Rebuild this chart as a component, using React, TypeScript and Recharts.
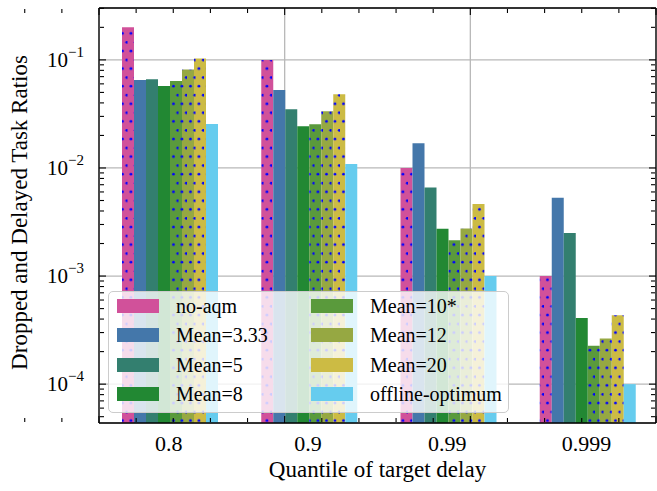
import React from 'react';
import { BarChart, Bar, XAxis, YAxis, CartesianGrid } from 'recharts';

const QUANTILES = ['0.8', '0.9', '0.99', '0.999'];

const SERIES = ['no-aqm', 'Mean=3.33', 'Mean=5', 'Mean=8', 'Mean=10*', 'Mean=12', 'Mean=20', 'offline-optimum'];
const COLORS = ['#d1519a', '#4477aa', '#337f6f', '#228833', '#5a9a3c', '#96a842', '#ccbb44', '#66ccee'];
const HATCHED = [true, false, false, false, true, true, true, false];

// values per quantile
const NO_AQM = [0.2, 0.1, 0.01, 0.001];
const MEAN_3_33 = [0.065, 0.0527, 0.0169, 0.0053];
const MEAN_5 = [0.0662, 0.0349, 0.0066, 0.0025];
const MEAN_8 = [0.0574, 0.0243, 0.00274, 0.00041];
const MEAN_10 = [0.0639, 0.0254, 0.00214, 0.000226];
const MEAN_12 = [0.0813, 0.0335, 0.00276, 0.000265];
const MEAN_20 = [0.1028, 0.0481, 0.00464, 0.000433];
const OFFLINE = [0.0255, 0.0109, 0.001, 0.0001];

const VALUES = [NO_AQM, MEAN_3_33, MEAN_5, MEAN_8, MEAN_10, MEAN_12, MEAN_20, OFFLINE];

const DECADES = [1e-4, 1e-3, 1e-2, 1e-1];
const Y_DOMAIN = [4.37e-5, 0.302];
const MINOR_Y = [1e-5, 1e-4, 1e-3, 1e-2, 1e-1]
  .flatMap((d) => [2, 3, 4, 5, 6, 7, 8, 9].map((m) => m * d))
  .filter((v) => v > Y_DOMAIN[0] && v < Y_DOMAIN[1]);

const X_DOMAIN = [-0.5, 3.5];
const MAJOR_X = [0, 1, 2, 3];
const MINOR_X = [-0.4, -0.2, 0.2, 0.4, 0.6, 0.8, 1.2, 1.4, 1.6, 1.8, 2.2, 2.4, 2.6, 2.8, 3.2, 3.4];

const data = QUANTILES.map((q, i) => {
  const row: Record<string, any> = { q };
  VALUES.forEach((arr, k) => {
    row[`s${k}`] = arr[i];
  });
  return row;
});

const FONT = '"Liberation Serif", "DejaVu Serif", serif';
const GRID = '#b8b8b8';

const NoTick = () => <g />;

const YTick = (props: any) => {
  const { x, y, payload } = props;
  const exp = Math.round(Math.log10(payload.value));
  return (
    <text x={x} y={y + 7} textAnchor="end" fontFamily={FONT} fontSize={21} fill="#000">
      10
      <tspan dy={-10} fontSize={15}>{`\u2212${Math.abs(exp)}`}</tspan>
    </text>
  );
};

const XTick = (props: any) => {
  const { x, y, payload } = props;
  return (
    <text x={x} y={y + 15} textAnchor="middle" fontFamily={FONT} fontSize={22} fill="#000">
      {payload.value}
    </text>
  );
};

const YLabel = (props: any) => {
  const vb = props.viewBox || {};
  const cy = (vb.y ?? 8) + (vb.height ?? 415) / 2 - 3;
  return (
    <text x={27} y={cy} transform={`rotate(-90 27 ${cy})`} textAnchor="middle" fontFamily={FONT} fontSize={23} fill="#000">
      Dropped and Delayed Task Ratios
    </text>
  );
};

const XLabel = (props: any) => {
  const vb = props.viewBox || {};
  const cx = (vb.x ?? 99) + (vb.width ?? 557) / 2;
  return (
    <text x={cx} y={477} textAnchor="middle" fontFamily={FONT} fontSize={23} fill="#000">
      Quantile of target delay
    </text>
  );
};

const axisLine = { stroke: '#000', strokeWidth: 1.3 };
const tickLine = { stroke: '#000', strokeWidth: 1.1 };

const LegendBox = () => (
  <div
    style={{
      position: 'absolute',
      left: 108,
      top: 291,
      width: 401,
      height: 122,
      boxSizing: 'border-box',
      background: 'rgba(255,255,255,0.8)',
      border: '1.5px solid #cccccc',
      borderRadius: 5,
      fontFamily: FONT,
      fontSize: 20,
      color: '#000',
    }}
  >
    {SERIES.map((name, i) => {
      const col = Math.floor(i / 4);
      const row = i % 4;
      const top = 7 + row * 29.3;
      const left = col === 0 ? 8 : 202;
      return (
        <div key={name} style={{ position: 'absolute', left, top, height: 14, width: 200 }}>
          <div style={{ position: 'absolute', left: 0, top: 0, width: 42, height: 14, background: COLORS[i] }} />
          <div style={{ position: 'absolute', left: 59, top: -5, lineHeight: '24px', whiteSpace: 'nowrap' }}>{name}</div>
        </div>
      );
    })}
  </div>
);

const mirrorX = { type: 'number' as const, domain: X_DOMAIN, allowDataOverflow: true, mirror: true, tick: <NoTick />, interval: 0 as const, tickLine, height: 1 };
const mirrorY = { type: 'number' as const, scale: 'log' as const, domain: Y_DOMAIN, allowDataOverflow: true, mirror: true, tick: <NoTick />, interval: 0 as const, tickLine, width: 1 };

export default function App() {
  return (
    <div style={{ position: 'absolute', left: 0, top: 0, width: 657, height: 491, background: '#fff' }}>
      <svg width={0} height={0} style={{ position: 'absolute' }}>
        <defs>
          {COLORS.map((c, i) => (
            <pattern key={i} id={`dots${i}`} patternUnits="userSpaceOnUse" width={8.5} height={17.6}>
              <rect x={0} y={0} width={8.5} height={17.6} fill={c} />
              <circle cx={7.7} cy={7.1} r={1.35} fill="#0000ff" />
              <circle cx={3.45} cy={15.8} r={1.35} fill="#0000ff" />
            </pattern>
          ))}
        </defs>
      </svg>
      <BarChart
        width={657}
        height={491}
        data={data}
        margin={{ top: 8, right: 1, bottom: 67, left: 98 }}
        barGap={0}
        barCategoryGap={23}
      >
        <CartesianGrid xAxisId="xg" yAxisId="y" stroke={GRID} strokeWidth={1.3} />
        <XAxis
          xAxisId="x"
          dataKey="q"
          height={1}
          interval={0}
          tickLine={false}
          tickSize={0}
          tickMargin={13}
          axisLine={axisLine}
          tick={<XTick />}
          label={<XLabel />}
        />
        <XAxis xAxisId="xg" orientation="top" {...mirrorX} ticks={MAJOR_X} tickSize={7} axisLine={axisLine} />
        <XAxis xAxisId="xt2" orientation="top" {...mirrorX} ticks={MINOR_X} tickSize={4} axisLine={false} />
        <XAxis xAxisId="xb1" orientation="bottom" {...mirrorX} ticks={MAJOR_X} tickSize={7} axisLine={false} />
        <XAxis xAxisId="xb2" orientation="bottom" {...mirrorX} ticks={MINOR_X} tickSize={4} axisLine={false} />
        <YAxis
          yAxisId="y"
          type="number"
          scale="log"
          domain={Y_DOMAIN}
          allowDataOverflow
          ticks={DECADES}
          interval={0}
          width={1}
          tickLine={false}
          tickSize={0}
          tickMargin={15}
          axisLine={axisLine}
          tick={<YTick />}
          label={<YLabel />}
        />
        <YAxis yAxisId="yl1" orientation="left" {...mirrorY} ticks={DECADES} tickSize={7} axisLine={false} />
        <YAxis yAxisId="yl2" orientation="left" {...mirrorY} ticks={MINOR_Y} tickSize={4} axisLine={false} />
        <YAxis yAxisId="yr1" orientation="right" {...mirrorY} ticks={DECADES} tickSize={7} axisLine={axisLine} />
        <YAxis yAxisId="yr2" orientation="right" {...mirrorY} ticks={MINOR_Y} tickSize={4} axisLine={false} />
        {SERIES.map((name, k) => (
          <Bar
            key={name}
            xAxisId="x"
            yAxisId="y"
            dataKey={`s${k}`}
            name={name}
            fill={HATCHED[k] ? `url(#dots${k})` : COLORS[k]}
            isAnimationActive={false}
          />
        ))}
      </BarChart>
      <LegendBox />
    </div>
  );
}
